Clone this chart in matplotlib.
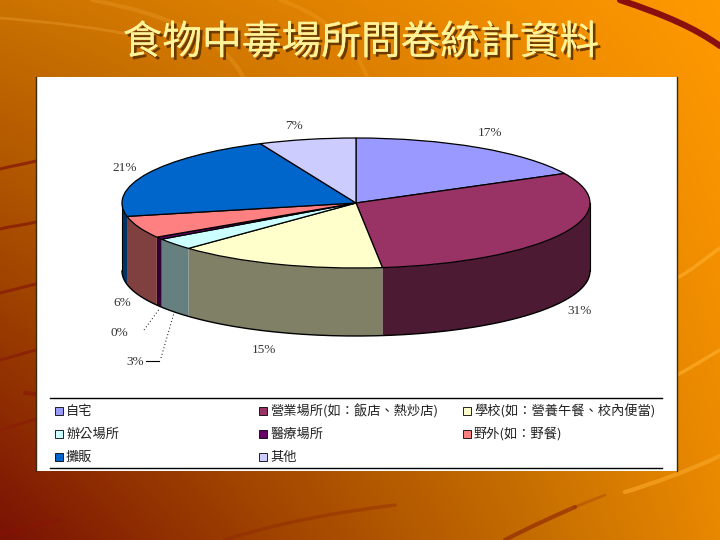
import numpy as np
import matplotlib
matplotlib.use('Agg')
import matplotlib.pyplot as plt
import matplotlib.patheffects as pe
from matplotlib.colors import LinearSegmentedColormap
from matplotlib.patches import Rectangle, PathPatch, Polygon
from matplotlib.path import Path

plt.rcParams['font.family'] = ['Noto Sans CJK TC', 'DejaVu Sans']

title = '食物中毒場所問卷統計資料'
places = ['自宅', '營業場所(如：飯店、熱炒店)', '學校(如：營養午餐、校內便當)',
          '辦公場所', '醫療場所', '野外(如：野餐)', '攤販', '其他']
# the 0% slice still shows as a sliver in the picture
shares = [17.5, 30.7, 14.5, 2.9, 0.6, 5.5, 21.6, 6.7]
share_labels = ['17%', '31%', '15%', '3%', '0%', '6%', '21%', '7%']
top_colors = ['#9999FF', '#993366', '#FFFFCC', '#CCFFFF', '#660066', '#FF8080', '#0066CC', '#CCCCFF']
wall_colors = ['#4D4D80', '#4D1A33', '#808066', '#668080', '#330033', '#804040', '#003366', '#666680']

W, H = 720, 540
fig = plt.figure(figsize=(7.2, 5.4), dpi=100)

# slide background in pixel coordinates
bg = fig.add_axes([0, 0, 1, 1])
bg.set_xlim(0, W)
bg.set_ylim(H, 0)
bg.axis('off')
yy, xx = np.mgrid[0:1:270j, 0:1:360j]
t = 0.68 * (1 - xx) * (1 - yy) + 1.0 * xx * (1 - yy) + 0.86 * xx * yy
cmap = LinearSegmentedColormap.from_list('slide', ['#7A1204', '#A04400', '#C87000', '#FF9900'])
bg.imshow(t, cmap=cmap, vmin=0, vmax=1, extent=(0, W, H, 0), aspect='auto', zorder=0)


def swoosh(pts, color, lw, alpha=1.0):
    codes = [Path.MOVETO] + [Path.CURVE4] * (len(pts) - 1)
    bg.add_patch(PathPatch(Path(pts, codes), fc='none', ec=color, lw=lw, alpha=alpha,
                           capstyle='round', zorder=1))


swoosh([(620, 0), (665, 15), (695, 28), (720, 46)], '#8A1010', 4.5)
# pale arcs behind the title
swoosh([(0, 18), (50, 22), (100, 28), (137, 36)], '#FFB84D', 2, 0.25)
swoosh([(92, 0), (170, 15), (225, 40), (243, 77)], '#FFB84D', 3, 0.2)
swoosh([(280, 0), (325, 15), (355, 45), (367, 77)], '#FFB84D', 3, 0.18)
# dark streaks on the left edge
for y0, y1 in [(169, 161), (229, 222), (293, 284), (360, 350), (430, 419)]:
    swoosh([(0, y0), (12, y0 - 3), (24, y1 + 3), (36, y1)], '#8A2008', 2.2, 0.85)
swoosh([(25, 393), (28, 393), (32, 394), (36, 394)], '#8A2008', 3, 0.85)
# pale streaks on the right edge
swoosh([(677, 278), (692, 270), (706, 258), (720, 248)], '#FFB030', 2.5, 0.6)
swoosh([(677, 375), (692, 367), (706, 358), (720, 350)], '#FFB030', 2.5, 0.6)
# bottom streaks
swoosh([(505, 540), (530, 527), (550, 518), (575, 507)], '#8A2008', 3, 0.6)
swoosh([(575, 507), (585, 503), (595, 499), (605, 495)], '#8A2008', 2, 0.25)
swoosh([(625, 492), (655, 483), (690, 470), (720, 456)], '#F5A020', 3, 0.8)
swoosh([(225, 540), (280, 522), (340, 512), (395, 505)], '#8A2008', 2.5, 0.35)
swoosh([(0, 534), (20, 530), (40, 524), (60, 520)], '#8A1008', 2.5, 0.4)

# title with a drop shadow
bg.text(361, 43, title, color='#FFF39A', fontsize=28.6, ha='center', va='center', zorder=3,
        path_effects=[pe.withSimplePatchShadow(offset=(2, -2), shadow_rgbFace='#6B3A00', alpha=1.0),
                      pe.Normal()])

# white panel, dark only on its sides
bg.add_patch(Rectangle((36, 77), 641, 394, fc='white', ec='none', zorder=2))
bg.plot([36, 36], [77, 471], color='#3A2A10', lw=1, zorder=3)
bg.plot([677, 677], [77, 471], color='#3A2A10', lw=1, zorder=3)

# pie, unit circle squashed by the axes limits
cx, cy, rx, ry, depth = 356, 203, 234, 65, 68
left, right = 60, 650
top, bottom = 100, 360
ax = fig.add_axes([left / W, 1 - bottom / H, (right - left) / W, (bottom - top) / H])
ax.pie(shares, colors=top_colors, startangle=90, counterclock=False,
       wedgeprops=dict(edgecolor='black', linewidth=0.9, zorder=5))
ax.set_xlim((left - cx) / rx, (right - cx) / rx)
ax.set_ylim((cy - bottom) / ry, (cy - top) / ry)
ax.set_aspect('auto')
ax.patch.set_visible(False)

# walls of the slices that face front
d = depth / ry
edges = 90 - np.cumsum([0] + shares) * 3.6
for i in range(len(shares)):
    hi, lo = min(edges[i], 0.0), max(edges[i + 1], -180.0)
    if hi <= lo:
        continue
    th = np.radians(np.linspace(hi, lo, 60))
    x, y = np.cos(th), np.sin(th)
    verts = np.r_[np.c_[x, y], np.c_[x[::-1], y[::-1] - d]]
    ax.add_patch(Polygon(verts, closed=True, fc=wall_colors[i], ec='none', zorder=2))
th = np.radians(np.linspace(0, -180, 200))
ax.plot(np.cos(th), np.sin(th) - d, color='black', lw=1.0, zorder=3)
ax.plot([1, 1], [0, -d], color='black', lw=0.8, zorder=3)
ax.plot([-1, -1], [0, -d], color='black', lw=0.8, zorder=3)

# share labels and leader lines, over the whole slide
over = fig.add_axes([0, 0, 1, 1])
over.set_xlim(0, W)
over.set_ylim(H, 0)
over.axis('off')
label_xy = [(490, 133), (580, 311), (264, 350), (135, 362), (119, 333), (122, 303), (125, 168), (294, 126)]
for s, (lx, ly) in zip(share_labels, label_xy):
    over.text(lx, ly, s, fontsize=9.5, color='#333333', ha='center', va='center',
              family=['Liberation Serif', 'DejaVu Serif'])
over.plot([144, 160], [330, 308], color='black', lw=0.7, ls=(0, (1, 2.5)))
over.plot([161, 174], [358, 313], color='black', lw=0.7, ls=(0, (1, 2.5)))
over.plot([146, 159], [361, 361], color='black', lw=0.8)

# legend block
over.plot([50, 662], [398, 398], color='black', lw=1)
over.plot([50, 662], [468, 468], color='black', lw=1)
col_x = [55, 259, 463]
row_y = [411, 434, 457]
for i, (name, col) in enumerate(zip(places, top_colors)):
    c, r = i % 3, i // 3
    over.add_patch(Rectangle((col_x[c], row_y[r] - 4), 8, 8, fc=col, ec='black', lw=0.6))
    over.text(col_x[c] + 11, row_y[r], name, fontsize=9.5, color='#222222', va='center', ha='left')

fig.savefig('out.png', dpi=100)
